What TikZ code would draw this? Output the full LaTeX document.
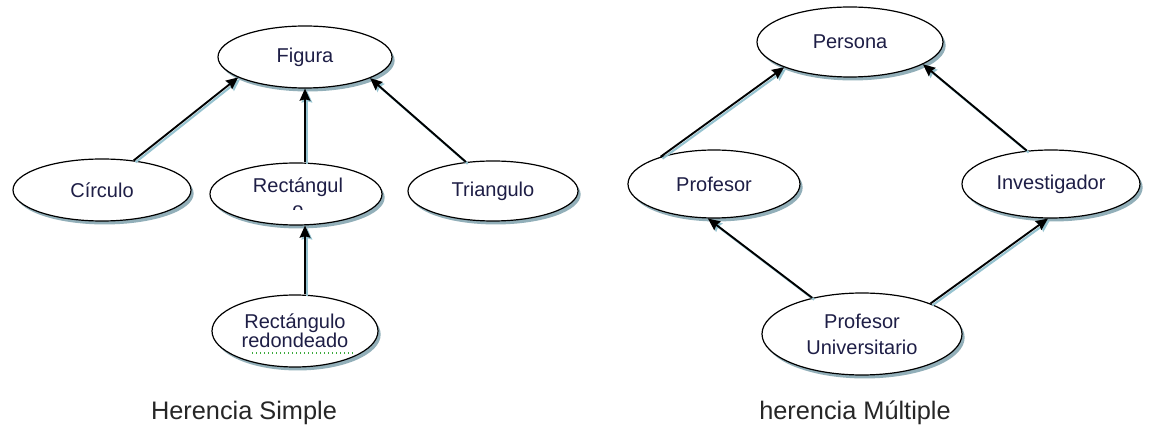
\documentclass[tikz,border=0pt]{standalone}
\usepackage{fontspec}
\setmainfont{Liberation Sans}
\usetikzlibrary{shapes.geometric,shadows,arrows.meta}
\definecolor{ink}{RGB}{30,30,70}
\definecolor{shade}{RGB}{100,142,156}
\definecolor{lineshade}{RGB}{150,195,208}
\definecolor{squiggle}{RGB}{60,170,60}
\begin{document}
\begin{tikzpicture}[x=0.75pt,y=-0.75pt,
  ell/.style={ellipse, draw=black, line width=0.9pt, fill=white, inner sep=0pt,
    text=ink, font=\fontsize{15}{18}\selectfont, align=center,
    drop shadow={shadow xshift=2pt, shadow yshift=-2.6pt, fill=shade, opacity=0.7}},
  lbl/.style={text=ink, font=\fontsize{15}{18}\selectfont, inner sep=0pt},
  captiontext/.style={text=black!85, font=\fontsize{19}{22}\selectfont, inner sep=0pt},
  link/.style={-{Stealth[length=9pt,width=8pt,inset=1pt]}, line width=1.4pt, draw=black,
    preaction={draw=lineshade, line width=1.6pt, transform canvas={shift={(1.4pt,-1.4pt)}}}}]
\useasboundingbox[fill=white] (0,0) rectangle (1160,434);

% --- single inheritance ---
\node[ell, minimum width=130.5pt, minimum height=46.5pt] (fig) at (305,57) {Figura};
\node[ell, minimum width=133.5pt, minimum height=46.5pt] (circ) at (102,190) {Círculo};
\node[ell, minimum width=129pt, minimum height=46.5pt] (rect) at (296,194) {};
\node[lbl, anchor=base] (rectA) at (298,193) {Rectángul};
\begin{scope}
  \clip (280,198) rectangle (316,210);
  \node[lbl, anchor=base] (rectB) at (298,217) {o};
\end{scope}
\node[ell, minimum width=127.5pt, minimum height=45pt] (tri) at (493,191) {Triangulo};
\node[ell, minimum width=124.5pt, minimum height=54pt,
      font=\fontsize{15}{14.3}\selectfont] (red) at (295,331) {Rectángulo\\redondeado};
\draw[squiggle, dotted, line width=1pt] (252,353) coordinate (sqA) -- (355,353) coordinate (sqB);

\draw[link] (circ.43) -- (fig.197);
\draw[link] (fig.south |- rect.north) -- (fig.south);
\draw[link] (tri.133) -- (fig.342);
\draw[link] (fig.south |- red.north) -- (fig.south |- rect.south);

% --- multiple inheritance ---
\node[ell, minimum width=139.5pt, minimum height=52.5pt] (pers) at (850,42) {Persona};
\node[ell, minimum width=129pt, minimum height=51pt] (prof) at (714,184) {Profesor};
\node[ell, minimum width=133.5pt, minimum height=51pt] (inv) at (1051,184) {Investigador};
\node[ell, minimum width=150pt, minimum height=61.5pt,
      font=\fontsize{15}{19.5}\selectfont] (pu) at (862,334) {Profesor\\Universitario};

\draw[link] (prof.153) -- (pers.201);
\draw[link] (inv.126) -- (pers.343);
\draw[link] (pu.144) -- (prof.260);
\draw[link] (pu.24) -- (inv.265);

% --- captions ---
\node[captiontext] (capS) at (244,413) {Herencia Simple};
\node[captiontext] (capM) at (855,413) {herencia Múltiple};
\end{tikzpicture}
\end{document}
